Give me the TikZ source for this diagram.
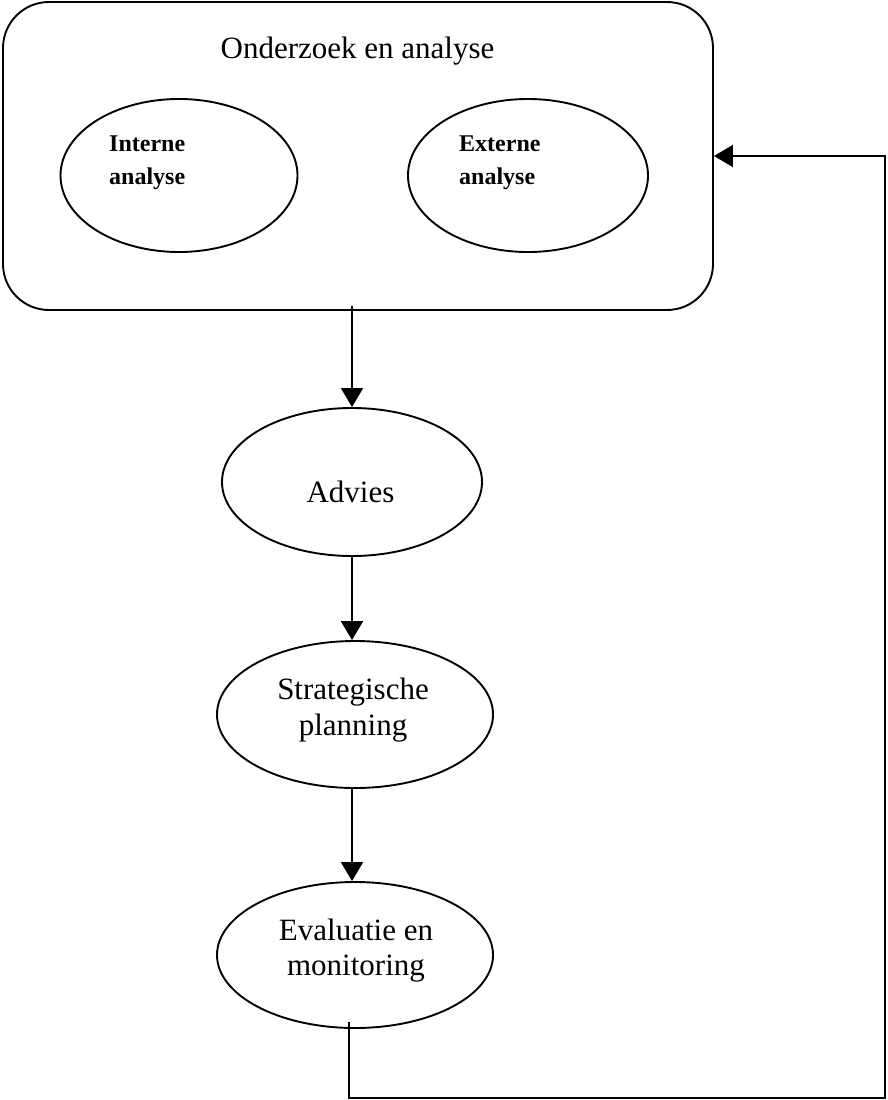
\documentclass[tikz,border=0pt]{standalone}
\usepackage{fontspec}
\setmainfont{Liberation Serif}
\usetikzlibrary{shapes.geometric,arrows.meta}
\tikzset{
  oval/.style={draw, ellipse, inner sep=0pt, line width=1.9pt},
  bigbox/.style={draw, rectangle, rounded corners=46pt, inner sep=0pt, line width=1.9pt},
  txt/.style={font=\fontsize{31}{36}\selectfont, inner sep=0pt, anchor=base},
  btxt/.style={font=\fontsize{24}{33}\selectfont\bfseries, inner sep=0pt, anchor=base west},
  arr/.style={line width=1.9pt, -{Triangle[length=19pt,width=22pt]}}
}
\begin{document}
\begin{tikzpicture}[x=1pt,y=-1pt]
\useasboundingbox (0,0) rectangle (887,1100);
% container
\node[bigbox, minimum width=710pt, minimum height=308pt] (box) at (358,156) {};
\node[txt] (title) at (357.5,58) {Onderzoek en analyse};
% inner ellipses
\node[oval, minimum width=237pt, minimum height=153pt] (int) at (179,175.5) {};
\node[btxt] (int1) at (109,151) {Interne};
\node[btxt] (int2) at (109,184) {analyse};
\node[oval, minimum width=240pt, minimum height=153pt] (ext) at (528,175.5) {};
\node[btxt] (ext1) at (459,151) {Externe};
\node[btxt] (ext2) at (459,184) {analyse};
% flow
\node[oval, minimum width=260pt, minimum height=148pt] (adv) at (352,482) {};
\node[txt] (advt) at (350.5,502) {Advies};
\node[oval, minimum width=276pt, minimum height=147pt] (str) at (355,714.5) {};
\node[txt] (str1) at (353,699) {Strategische};
\node[txt] (str2) at (353,735) {planning};
\node[oval, minimum width=276pt, minimum height=146pt] (eva) at (355,955) {};
\node[txt] (eva1) at (356,940) {Evaluatie en};
\node[txt] (eva2) at (356,975) {monitoring};
% connectors
\draw[arr] ([yshift=5pt]box.south -| adv.north) -- (adv.north);
\draw[arr] (adv.south) -- (adv.south |- str.north);
\draw[arr] (adv.south |- str.south) -- (adv.south |- eva.north);
\coordinate (fb1) at (349,1022);
\coordinate (fb2) at (885,1098);
\draw[arr] (fb1) |- (fb2) |- (box.east);
\end{tikzpicture}
\end{document}
